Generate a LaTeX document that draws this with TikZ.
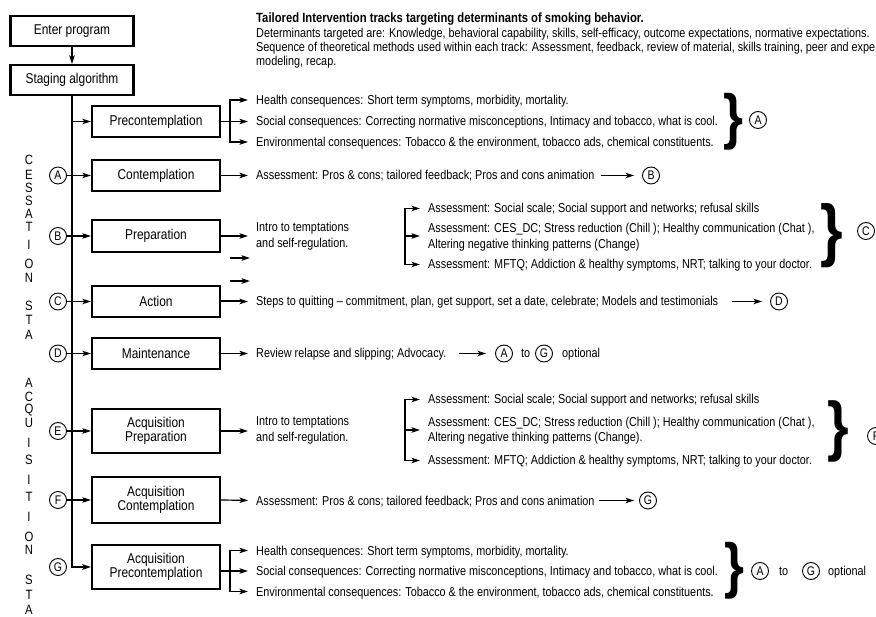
\documentclass[tikz,border=0pt]{standalone}
\usepackage{fontspec}
\setmainfont{Liberation Sans}[FakeStretch=0.84]
\usetikzlibrary{arrows.meta,calc}
\tikzset{
  box/.style={draw, line width=2.3pt, minimum width=128pt, minimum height=31pt, inner sep=0pt, align=center, font=\fontsize{14.2}{14.5}\selectfont},
  circ/.style={draw, circle, line width=0.9pt, minimum size=17pt, inner sep=0pt, font=\fontsize{12.5}{12}\selectfont},
  txt/.style={anchor=west, inner sep=0pt, text height=9pt, text depth=0pt, font=\fontsize{12.9}{14}\selectfont},
  mtxt/.style={anchor=west, inner sep=0pt, align=left, font=\fontsize{12.9}{15.5}\selectfont},
  hdr/.style={anchor=west, inner sep=0pt, text height=9pt, text depth=0pt, font=\fontsize{12.9}{14}\selectfont},
  arr/.style={-{Stealth[length=8.5pt,width=5.5pt,inset=2pt]}, line width=1.2pt},
  arrt/.style={arr, shorten >=8pt},
  ln/.style={line width=1.2pt},
  vl/.style={inner sep=0pt, font=\fontsize{13.5}{13}\selectfont},
  brc/.style={inner sep=0pt},
}
\begin{document}
\begin{tikzpicture}[x=1pt,y=-1pt]
\fill[white] (0,0) rectangle (876,617);
\useasboundingbox (0,0) rectangle (876,617);

% header
\node[hdr,font=\bfseries\fontsize{13.4}{14}\selectfont] (h1) at (256,18) {Tailored Intervention tracks targeting determinants of smoking behavior.};
\node[hdr] (h2) at (256,33) {Determinants targeted are: Knowledge, behavioral capability, skills, self-efficacy, outcome expectations, normative expectations.};
\node[hdr] (h3) at (256,47) {Sequence of theoretical methods used within each track: Assessment, feedback, review of material, skills training, peer and expe};
\node[hdr] (h4) at (256,61) {modeling, recap.};

% left column
\node[box, minimum width=123pt, minimum height=30pt] (enter) at (72,31) {Enter program};
\node[box, minimum width=123pt, minimum height=30pt] (stage) at (72,80) {Staging algorithm};
\draw[arr] (enter) -- (stage);

\node[box] (pre) at (156,121.5) {Precontemplation};
\node[box] (con) at (156,175.5) {Contemplation};
\node[box, minimum height=32pt] (prep) at (156,236) {Preparation};
\node[box] (act) at (156,301.5) {Action};
\node[box] (mnt) at (156,353.5) {Maintenance};
\node[box, minimum height=44pt] (aprep) at (156,431) {Acquisition\\Preparation};
\node[box, minimum height=46pt] (acon) at (156,500) {Acquisition\\Contemplation};
\node[box, minimum height=44pt] (apre) at (156,567) {Acquisition\\Precontemplation};

\draw[arr, line width=1.5pt] (stage.south) |- (apre.west);
\draw[arr] (pre.west -| stage.south) -- (pre.west);

\node[circ] (cA) at (58,175.5) {A};
\node[circ] (cB) at (58,236) {B};
\node[circ] (cC) at (58,301.5) {C};
\node[circ] (cD) at (58,353.5) {D};
\node[circ] (cE) at (58,431) {E};
\node[circ] (cF) at (58,500) {F};
\node[circ] (cG) at (58,567) {G};
\draw[arr] (cA) -- (con);
\draw[arr] (cB) -- (prep);
\draw[arr] (cC) -- (act);
\draw[arr] (cD) -- (mnt);
\draw[arr] (cE) -- (aprep);
\draw[arr] (cF) -- (acon);

% vertical letters
\foreach \l/\y [count=\i] in {C/160,E/175,S/188,S/201,A/214,T/227,I/245,O/264,N/278,S/306,T/320,A/335}
  \node[vl] (cs\i) at (29,\y) {\l};
\foreach \l/\y [count=\i] in {A/383,C/397,Q/410,U/423,I/443,S/460,I/480,T/497,I/517,O/537,N/550,S/580,T/595,A/610}
  \node[vl] (aq\i) at (29,\y) {\l};

% precontemplation group
\node[txt] (p1) at (256,100) {Health consequences: Short term symptoms, morbidity, mortality.};
\node[txt] (p2) at (256,121.5) {Social consequences: Correcting normative misconceptions, Intimacy and tobacco, what is cool.};
\node[txt] (p3) at (256,142) {Environmental consequences: Tobacco \& the environment, tobacco ads, chemical constituents.};
\coordinate (pb) at (230,121.5);
\draw[arrt] (pre.east) -- (p2.west);
\draw[arrt] (pb) |- (p1.west);
\draw[arrt] (pb) |- (p3.west);
\node[brc, font=\bfseries\fontsize{61}{61}\selectfont] (brA) at (733,121.5) {\}};
\node[circ] (cA1) at (758,120) {A};

% contemplation
\node[txt] (c1) at (256,175.5) {Assessment: Pros \& cons; tailored feedback; Pros and cons animation};
\draw[arrt] (con.east) -- (c1.west);
\node[circ] (cB1) at (651,175.5) {B};
\draw[arr, shorten <=6pt, shorten >=8pt] (c1.east) -- (cB1.west);

% preparation
\node[mtxt] (pi) at (256,236) {Intro to temptations\\and self-regulation.};
\draw[arrt] (prep.east) -- (prep.east -| pi.west);
\coordinate (qb) at (405,236);
\node[txt] (q1) at (428,208.5) {Assessment: Social scale; Social support and networks; refusal skills};
\node[mtxt] (q2) at (428,237) {Assessment: CES\_DC; Stress reduction (Chill ); Healthy communication (Chat ),\\Altering negative thinking patterns (Change)};
\node[txt] (q3) at (428,264.5) {Assessment: MFTQ; Addiction \& healthy symptoms, NRT; talking to your doctor.};
\draw[arrt] (qb) |- (q1.west);
\draw[arrt] (qb) |- (q3.west);
\draw[arrt] (qb) -- (qb -| q2.west);
\node[brc, font=\bfseries\fontsize{69}{69}\selectfont] (brC) at (832,236) {\}};
\node[circ] (cC1) at (866,231) {C};
\coordinate (sa1) at (230,258);
\coordinate (sb1) at (250,258);
\coordinate (sa2) at (230,281);
\coordinate (sb2) at (250,281);
\draw[arr] (sa1) -- (sb1);
\draw[arr] (sa2) -- (sb2);

% action
\node[txt] (a1) at (256,301.5) {Steps to quitting – commitment, plan, get support, set a date, celebrate; Models and testimonials};
\draw[arrt, line width=2pt] (act.east) -- (a1.west);
\node[circ] (cD1) at (779,301.5) {D};
\draw[arr, shorten <=14pt, shorten >=8pt] (a1.east) -- (cD1.west);

% maintenance
\node[txt] (m1) at (256,353.5) {Review relapse and slipping; Advocacy.};
\draw[arrt] (mnt.east) -- (m1.west);
\node[circ] (cA2) at (504,353.5) {A};
\node[txt] (mto) at (521,353.5) {to};
\node[circ] (cG2) at (544,353.5) {G};
\node[txt] (mop) at (562,353.5) {optional};
\draw[arr, shorten <=12pt, shorten >=9pt] (m1.east) -- (cA2.west);

% acquisition preparation
\node[mtxt] (ei) at (256,430) {Intro to temptations\\and self-regulation.};
\draw[arrt] (aprep.east) -- (aprep.east -| ei.west);
\coordinate (rb) at (405,430);
\node[txt] (r1) at (428,399.5) {Assessment: Social scale; Social support and networks; refusal skills};
\node[mtxt] (r2) at (428,430.5) {Assessment: CES\_DC; Stress reduction (Chill ); Healthy communication (Chat ),\\Altering negative thinking patterns (Change).};
\node[txt] (r3) at (428,460.5) {Assessment: MFTQ; Addiction \& healthy symptoms, NRT; talking to your doctor.};
\draw[arrt] (rb) |- (r1.west);
\draw[arrt] (rb) |- (r3.west);
\draw[arrt] (rb) -- (rb -| r2.west);
\node[brc, font=\bfseries\fontsize{66}{66}\selectfont] (brF) at (838,431) {\}};
\node[circ] (cF1) at (876,436) {F};

% acquisition contemplation
\node[txt] (f1) at (256,500.5) {Assessment: Pros \& cons; tailored feedback; Pros and cons animation};
\draw[arrt] (acon.east) -- (f1.west);
\node[circ] (cG1) at (648,500.5) {G};
\draw[arr, shorten <=4pt, shorten >=5pt] (f1.east) -- (cG1.west);

% acquisition precontemplation
\node[txt] (g1) at (256,550.5) {Health consequences: Short term symptoms, morbidity, mortality.};
\node[txt] (g2) at (256,571) {Social consequences: Correcting normative misconceptions, Intimacy and tobacco, what is cool.};
\node[txt] (g3) at (256,591.5) {Environmental consequences: Tobacco \& the environment, tobacco ads, chemical constituents.};
\coordinate (gb) at (230,571);
\draw[arrt] (gb -| apre.east) -- (g2.west);
\draw[arrt] (gb) |- (g1.west);
\draw[arrt] (gb) |- (g3.west);
\node[brc, font=\bfseries\fontsize{61}{61}\selectfont] (brG) at (734,571) {\}};
\node[circ] (cA3) at (760,571) {A};
\node[txt] (gto) at (779,571) {to};
\node[circ] (cG3) at (811,571) {G};
\node[txt] (gop) at (828,571) {optional};
\end{tikzpicture}
\end{document}
